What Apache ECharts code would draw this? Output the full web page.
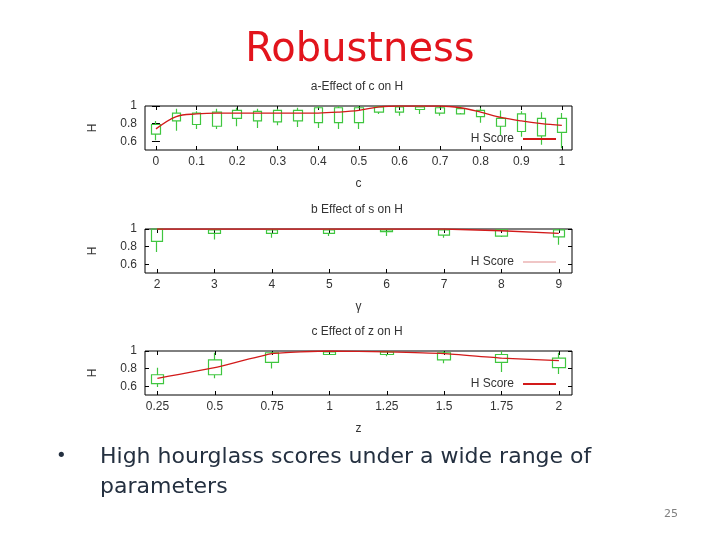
<!DOCTYPE html>
<html>
<head>
<meta charset="utf-8">
<script src="https://cdn.jsdelivr.net/npm/echarts@6/dist/echarts.min.js"></script>
<style>
  html, body { margin: 0; padding: 0; background: #fff; }
  #main { width: 720px; height: 540px; }
</style>
</head>
<body>
<div id="main"></div>
<script>
// a - effect of c on H
var aX         = [0, 0.05, 0.1, 0.15, 0.2, 0.25, 0.3, 0.35, 0.4, 0.45, 0.5, 0.55, 0.6, 0.65, 0.7, 0.75, 0.8, 0.85, 0.9, 0.95, 1];
var aBoxLow    = [0.68, 0.83, 0.79, 0.77, 0.86, 0.83, 0.82, 0.83, 0.81, 0.81, 0.81, 0.93, 0.93, 0.96, 0.92, 0.91, 0.88, 0.77, 0.71, 0.66, 0.70];
var aBoxHigh   = [0.79, 0.92, 0.92, 0.93, 0.95, 0.94, 0.95, 0.95, 0.98, 0.98, 0.98, 0.99, 0.99, 0.99, 0.98, 0.97, 0.95, 0.86, 0.91, 0.86, 0.86];
var aWhiskLow  = [0.61, 0.72, 0.74, 0.74, 0.77, 0.75, 0.78, 0.76, 0.75, 0.74, 0.74, 0.91, 0.89, 0.91, 0.89, 0.92, 0.81, 0.67, 0.65, 0.56, 0.52];
var aWhiskHigh = [0.83, 0.97, 0.94, 0.97, 0.98, 0.97, 0.97, 0.98, 1, 1, 1, 1, 1, 1, 1, 1, 0.98, 0.95, 0.94, 0.93, 0.92];
var aScore     = [0.74, 0.88, 0.91, 0.92, 0.92, 0.92, 0.92, 0.92, 0.92, 0.93, 0.95, 0.99, 1, 1, 1, 0.98, 0.93, 0.87, 0.83, 0.80, 0.78];
var aTicks     = [0, 0.1, 0.2, 0.3, 0.4, 0.5, 0.6, 0.7, 0.8, 0.9, 1];

// b - effect of s on H
var bX         = [2, 3, 4, 5, 6, 7, 8, 9];
var bBoxLow    = [0.86, 0.95, 0.95, 0.95, 0.97, 0.93, 0.92, 0.91];
var bBoxHigh   = [1, 0.99, 0.99, 0.99, 0.99, 0.99, 0.99, 0.99];
var bWhiskLow  = [0.74, 0.88, 0.90, 0.92, 0.92, 0.90, 0.91, 0.82];
var bWhiskHigh = [1, 1, 1, 1, 1, 1, 1, 1];
var bScore     = [1, 1, 1, 1, 1, 1, 0.98, 0.95];
var bTicks     = [2, 3, 4, 5, 6, 7, 8, 9];

// c - effect of z on H
var cX         = [0.25, 0.5, 0.75, 1, 1.25, 1.5, 1.75, 2];
var cBoxLow    = [0.63, 0.73, 0.87, 0.96, 0.96, 0.90, 0.87, 0.81];
var cBoxHigh   = [0.73, 0.90, 0.98, 0.99, 0.99, 0.98, 0.96, 0.92];
var cWhiskLow  = [0.59, 0.69, 0.80, 0.96, 0.94, 0.86, 0.76, 0.74];
var cWhiskHigh = [0.81, 0.98, 0.99, 1, 1, 1, 1, 0.98];
var cScore     = [0.69, 0.81, 0.97, 1, 0.99, 0.97, 0.92, 0.89];
var cTicks     = [0.25, 0.5, 0.75, 1, 1.25, 1.5, 1.75, 2];

var yTicks = [0.6, 0.8, 1];

var green = '#3fc63f';
var red = '#d21a1a';
var axisFont = 'Liberation Sans';

var myChart = echarts.init(document.getElementById('main'));

var grids = [], xAxes = [], yAxes = [], series = [], titles = [], legends = [];

function addPanel(i, top, title, xName, xMin, xMax, xTicks, xs, boxLow, boxHigh, whLow, whHigh, score, boxW, smooth, legendColor) {
	grids.push({ left: 145, right: 148, top: top, height: 44, show: true, borderColor: '#000', borderWidth: 1, backgroundColor: 'transparent' });

	// bottom / top x axes
	xAxes.push({
		gridIndex: i, type: 'value', min: xMin, max: xMax,
		axisLine: { show: false },
		axisTick: { inside: true, length: 4, customValues: xTicks, lineStyle: { color: '#000' } },
		axisLabel: { customValues: xTicks, color: '#333', fontSize: 12, fontFamily: axisFont, margin: 6 },
		splitLine: { show: false },
		name: xName, nameLocation: 'middle', nameGap: 28,
		nameTextStyle: { color: '#333', fontSize: 12, fontFamily: axisFont }
	});
	xAxes.push({
		gridIndex: i, type: 'value', position: 'top', min: xMin, max: xMax,
		axisLine: { show: false },
		axisTick: { inside: true, length: 4, customValues: xTicks, lineStyle: { color: '#000' } },
		axisLabel: { show: false },
		splitLine: { show: false }
	});
	// left / right y axes
	yAxes.push({
		gridIndex: i, type: 'value', min: 0.5, max: 1,
		axisLine: { show: false },
		axisTick: { inside: true, length: 4, customValues: yTicks, lineStyle: { color: '#000' } },
		axisLabel: { customValues: yTicks, color: '#333', fontSize: 12, fontFamily: axisFont, margin: 8 },
		splitLine: { show: false },
		name: 'H', nameLocation: 'middle', nameGap: 46,
		nameTextStyle: { color: '#333', fontSize: 12, fontFamily: axisFont }
	});
	yAxes.push({
		gridIndex: i, type: 'value', position: 'right', min: 0.5, max: 1,
		axisLine: { show: false },
		axisTick: { inside: true, length: 4, customValues: yTicks, lineStyle: { color: '#000' } },
		axisLabel: { show: false },
		splitLine: { show: false }
	});

	var boxes = [], line = [];
	xs.forEach(function (x, k) {
		boxes.push([x, boxLow[k], boxHigh[k], whLow[k], whHigh[k]]);
		line.push([x, score[k]]);
	});

	series.push({
		type: 'candlestick', xAxisIndex: 2 * i, yAxisIndex: 2 * i,
		barWidth: boxW,
		data: boxes,
		itemStyle: {
			color: 'rgba(0,0,0,0)', color0: 'rgba(0,0,0,0)',
			borderColor: green, borderColor0: green, borderColorDoji: green, borderWidth: 1.2
		},
		z: 2
	});
	series.push({
		name: 'H Score', type: 'line', xAxisIndex: 2 * i, yAxisIndex: 2 * i,
		data: line, symbol: 'none', smooth: smooth,
		lineStyle: { color: red, width: 1.3 },
		itemStyle: { color: red },
		z: 3
	});

	titles.push({
		text: title, left: 357, top: top - 25, padding: 0, textAlign: 'center',
		textStyle: { fontSize: 12, fontWeight: 'normal', color: '#333', fontFamily: axisFont }
	});
	legends.push({
		data: ['H Score'], right: 164, top: top + 27, padding: 0, align: 'right',
		icon: 'rect', itemWidth: 33, itemHeight: 2, itemGap: 0, selectedMode: false,
		itemStyle: { color: legendColor, borderWidth: 0 },
		textStyle: { fontSize: 12, color: '#333', fontFamily: axisFont, padding: [0, 4, 0, 0] }
	});
}

addPanel(0, 106, 'a-Effect of c on H', 'c', -0.027, 1.025, aTicks, aX, aBoxLow, aBoxHigh, aWhiskLow, aWhiskHigh, aScore, 9, 0.35, red);
addPanel(1, 229, 'b Effect of s on H', '\u03b3', 1.79, 9.23, bTicks, bX, bBoxLow, bBoxHigh, bWhiskLow, bWhiskHigh, bScore, 12, 0, '#f0c6c6');
addPanel(2, 351, 'c Effect of z on H', 'z', 0.196, 2.057, cTicks, cX, cBoxLow, cBoxHigh, cWhiskLow, cWhiskHigh, cScore, 13, 0.15, red);

titles.unshift({
	text: 'Robustness', left: 360, top: 31, padding: 0, textAlign: 'center',
	textStyle: { fontSize: 40, fontWeight: 'normal', color: '#e2141c', fontFamily: 'DejaVu Sans' }
});

var option = {
	backgroundColor: '#fff',
	animation: false,
	title: titles,
	legend: legends,
	grid: grids,
	xAxis: xAxes,
	yAxis: yAxes,
	series: series,
	graphic: [
		{ type: 'text', left: 56, top: 447, style: { text: '\u2022', fontSize: 18, fill: '#243040', fontFamily: 'DejaVu Sans' } },
		{ type: 'text', left: 100, top: 442, style: { text: 'High hourglass scores under a wide range of\nparameters', fontSize: 22, lineHeight: 30, fill: '#243040', fontFamily: 'DejaVu Sans' } },
		{ type: 'text', left: 664, top: 509, style: { text: '25', fontSize: 11, fill: '#808080', fontFamily: 'DejaVu Sans' } }
	]
};

myChart.setOption(option);
</script>
</body>
</html>
